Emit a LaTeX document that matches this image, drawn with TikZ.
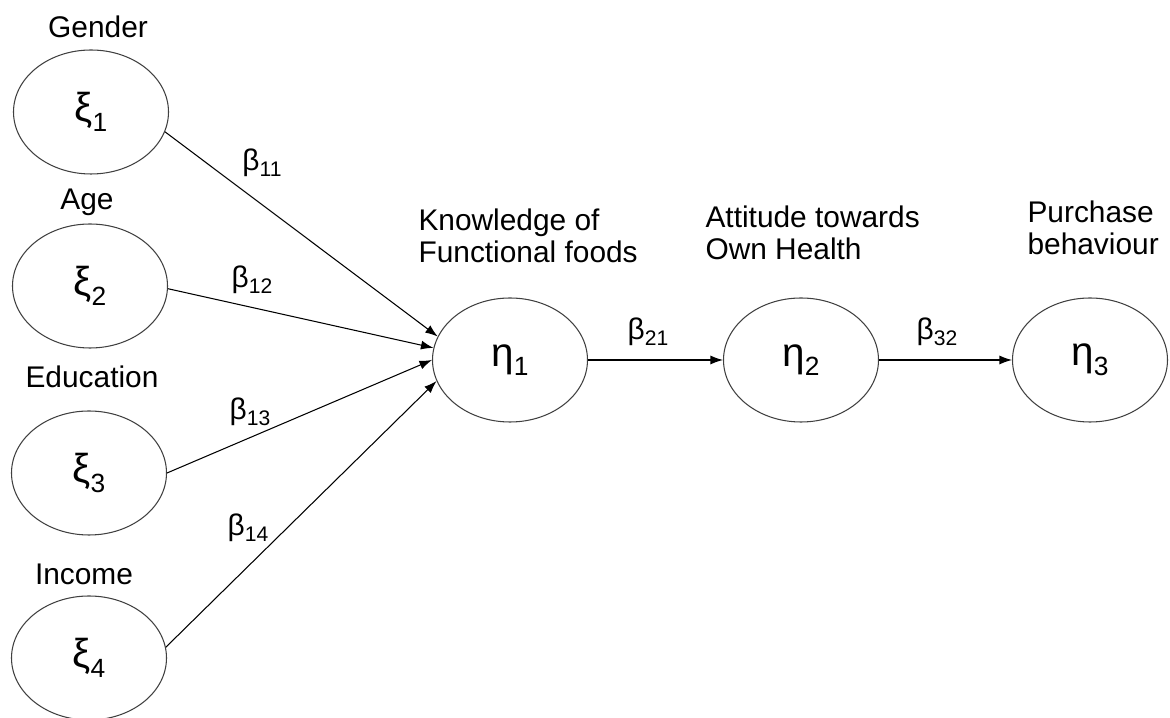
\documentclass[tikz,border=0pt]{standalone}
\usepackage{fontspec}
\setmainfont{Liberation Sans}
\usetikzlibrary{shapes.geometric,arrows.meta}

\newcommand{\latent}[2]{{\fontsize{23}{26}\selectfont #1}\raisebox{-5.5pt}{\fontsize{15}{17}\selectfont #2}}
\newcommand{\coef}[1]{{\fontsize{17}{20}\selectfont β}\raisebox{-3.5pt}{\fontsize{12}{14}\selectfont #1}}

\begin{document}
\begin{tikzpicture}[line width=0.6pt,
    lv/.style={draw=black!75, ellipse, minimum width=3.1cm, minimum height=2.48cm, inner sep=0pt},
    ttl/.style={font=\fontsize{17}{18.2}\selectfont, inner sep=0pt, align=left},
    arr/.style={-{Latex[length=2.5mm,width=1.8mm]}}]
    \useasboundingbox (0,0) rectangle (23.4,-14.36);

    % exogenous variables
    \node[lv] at (1.82,-2.24)  (xi1) {\latent{ξ}{1}};
    \node[lv] at (1.80,-5.72)  (xi2) {\latent{ξ}{2}};
    \node[lv] at (1.78,-9.46)  (xi3) {\latent{ξ}{3}};
    \node[lv] at (1.78,-13.16) (xi4) {\latent{ξ}{4}};
    \node[ttl] at (1.96,-0.54)  (gender) {Gender};
    \node[ttl] at (1.74,-4.05)  (age) {Age};
    \node[ttl] at (1.84,-7.54)  (educ) {Education};
    \node[ttl] at (1.68,-11.48) (income) {Income};

    % endogenous variables
    \node[lv] at (10.2,-7.2)  (eta1) {\latent{η}{1}};
    \node[lv] at (16.02,-7.2) (eta2) {\latent{η}{2}};
    \node[lv] at (21.8,-7.2)  (eta3) {\latent{η}{3}};
    \node[ttl, anchor=north west] at (8.36,-4.16) (know) {Knowledge of\\Functional foods};
    \node[ttl, anchor=north west] at (14.1,-4.1)  (att) {Attitude towards\\Own Health};
    \node[ttl, anchor=north west] at (20.54,-4.0) (purch) {Purchase\\behaviour};

    % paths
    \draw[arr] (xi1.-15) -- (eta1.162);
    \draw[arr] (xi2.-2)  -- (eta1.171);
    \draw[arr] (xi3.east) -- (eta1.180);
    \draw[arr] (xi4.8)   -- (eta1.196);
    \draw[arr] (eta1) -- (eta2);
    \draw[arr] (eta2) -- (eta3);

    \node at (5.24,-3.26)  (b11) {\coef{11}};
    \node at (5.04,-5.6)   (b12) {\coef{12}};
    \node at (5.0,-8.24)   (b13) {\coef{13}};
    \node at (4.96,-10.56) (b14) {\coef{14}};
    \node at (12.96,-6.64) (b21) {\coef{21}};
    \node at (18.74,-6.64) (b32) {\coef{32}};

\end{tikzpicture}
\end{document}
